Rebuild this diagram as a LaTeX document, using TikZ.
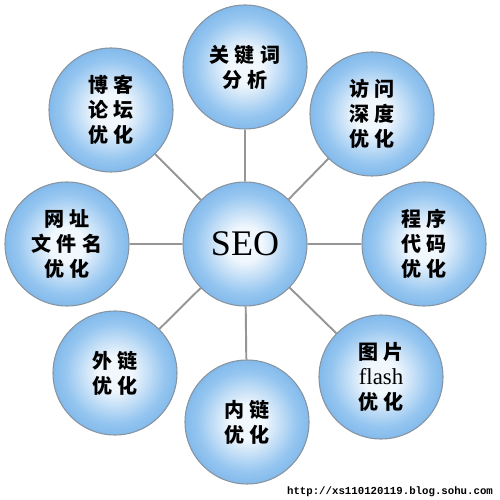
\documentclass[tikz,border=0pt]{standalone}
\usepackage{fontspec}
\usepackage{tikz}
\newfontfamily\cjk{Noto Sans CJK SC}[LetterSpace=25]
\newfontfamily\serifnote{Liberation Serif}
\newfontfamily\urlfont{Liberation Mono}
\definecolor{ballblue}{RGB}{58,138,212}
\definecolor{ballmid}{RGB}{92,162,226}
\definecolor{ballsoft}{RGB}{150,198,240}
\definecolor{balllight}{RGB}{240,247,253}
\definecolor{linkgray}{RGB}{150,150,150}
\definecolor{rimgray}{RGB}{135,148,160}
\pgfdeclareradialshading{seoball}{\pgfpoint{0bp}{0bp}}{color(0bp)=(balllight); color(7bp)=(balllight); color(20bp)=(ballsoft); color(35bp)=(ballmid); color(50bp)=(ballblue)}
\tikzset{
  ball/.style={circle,minimum size=2.48cm,inner sep=0pt,draw=rimgray,line width=0.6pt,
    shading=seoball,align=center,font=\cjk\bfseries\fontsize{11.4}{14.2}\selectfont},
  link/.style={draw=linkgray,line width=1.1pt}
}

\begin{document}
\begin{tikzpicture}
            \useasboundingbox[fill=white] (-4.9,-5.12) rectangle (5.1,4.88);
            \node[ball,font=\serifnote\fontsize{20.5}{24}\selectfont] at (0,0) (seo) {SEO};
            \node[ball] at (0,3.54) (gjc) {关键词\\分析};
            \node[ball] at (2.54,2.6) (fw) {访问\\深度\\优化};
            \node[ball] at (3.58,0) (cx) {程序\\代码\\优化};
            \node[ball] at (2.72,-2.66) (tp) {图片\\{\serifnote\mdseries\fontsize{13}{14.2}\selectfont flash}\\优化};
            \node[ball] at (0.04,-3.56) (nl) {内链\\优化};
            \node[ball] at (-2.6,-2.58) (wl) {外链\\优化};
            \node[ball] at (-3.56,0) (wz) {网址\\文件名\\优化};
            \node[ball] at (-2.68,2.68) (bk) {博客\\论坛\\优化};
            \node[font=\urlfont\bfseries\fontsize{6.1}{7}\selectfont] at (2.9,-4.96) (url) {http://xs110120119.blog.sohu.com};
            \draw[link] (seo) to (gjc);
            \draw[link] (seo) to (fw);
            \draw[link] (seo) to (cx);
            \draw[link] (seo) to (tp);
            \draw[link] (seo) to (nl);
            \draw[link] (seo) to (wl);
            \draw[link] (seo) to (wz);
            \draw[link] (seo) to (bk);
        \end{tikzpicture}
\end{document}
